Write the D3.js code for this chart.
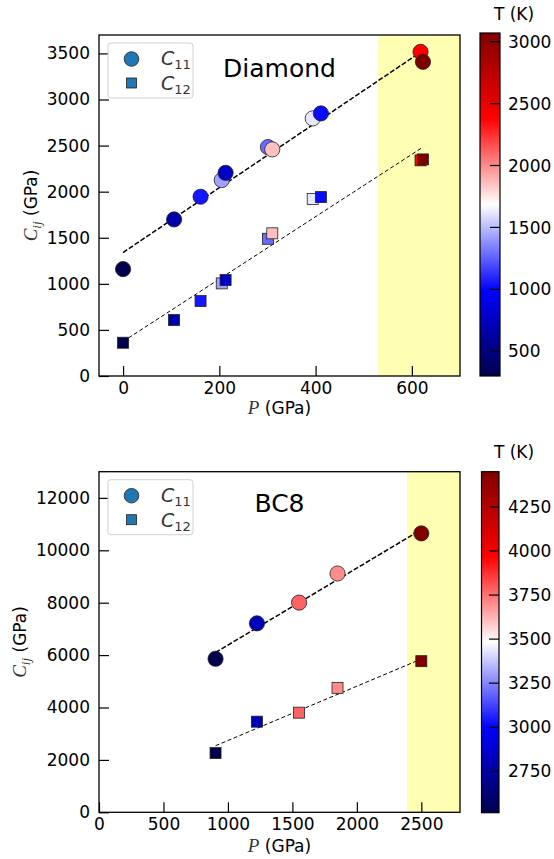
<!DOCTYPE html>
<html><head><meta charset="utf-8">
<script src="https://cdn.jsdelivr.net/npm/d3@7"></script>
<style>
body{margin:0;background:#fff}
svg{display:block}
text{font-family:"DejaVu Sans",sans-serif;fill:#000}
</style>
</head><body>
<svg id="c" width="554" height="859"></svg>
<script>
// ---------- Diamond data ----------
const diaP   = [0, 106, 161, 205, 213, 301, 310, 394, 411, 618, 623];
const diaC11 = [1160, 1699, 1945, 2126, 2205, 2484, 2459, 2795, 2849, 3517, 3409];
const diaC12 = [361, 607, 813, 1005, 1041, 1489, 1548, 1920, 1941, 2340, 2350];
const diaT   = [300, 660, 1050, 1430, 770, 1280, 1860, 1620, 1020, 2380, 3070];
const diaFit11 = [[0, 1340], [620, 3520]];
const diaFit12 = [[0, 375], [622, 2480]];
const diaXTicks = [0, 200, 400, 600];
const diaYTicks = [0, 500, 1000, 1500, 2000, 2500, 3000, 3500];
const diaCbTicks = [500, 1000, 1500, 2000, 2500, 3000];

// ---------- BC8 data ----------
const bcP   = [904, 1225, 1552, 1850, 2500];
const bcC11 = [5860, 7212, 8004, 9114, 10646];
const bcC12 = [2260, 3459, 3803, 4749, 5768];
const bcT   = [2515, 2805, 3780, 3700, 4450];
const bcFit11 = [[904, 6100], [2500, 10790]];
const bcFit12 = [[904, 2540], [2500, 5850]];
const bcXTicks = [0, 500, 1000, 1500, 2000, 2500];
const bcYTicks = [0, 2000, 4000, 6000, 8000, 10000, 12000];
const bcCbTicks = [2750, 3000, 3250, 3500, 3750, 4000, 4250];

const svg = d3.select("#c");
const seismicOffsets = [0, 0.25, 0.5, 0.75, 1];
const seismicColors = ["rgb(0,0,77)", "#0000ff", "#ffffff", "#ff0000", "#800000"];
const seismic = d3.scaleLinear().domain(seismicOffsets).range(seismicColors).interpolate(d3.interpolateRgb);

function panel(o) {
  const x = d3.scaleLinear().domain(o.xDomain).range([o.left, o.left + o.w]);
  const y = d3.scaleLinear().domain(o.yDomain).range([o.top + o.h, o.top]);
  const tExt = d3.extent(o.T);
  const cn = d3.scaleLinear().domain(tExt).range([0, 1]);
  const color = t => seismic(cn(t));
  const g = svg.append("g");
  const clipId = "clip" + o.id;
  g.append("clipPath").attr("id", clipId).append("rect")
    .attr("x", o.left).attr("y", o.top).attr("width", o.w).attr("height", o.h);

  // yellow band
  g.append("rect").attr("x", x(o.band)).attr("y", o.top)
    .attr("width", x(o.xDomain[1]) - x(o.band)).attr("height", o.h)
    .attr("fill", "#ffffb3");

  const plot = g.append("g").attr("clip-path", `url(#${clipId})`);
  const line = d3.line().x(d => x(d[0])).y(d => y(d[1]));
  plot.append("path").attr("d", line(o.fit11)).attr("fill", "none")
    .attr("stroke", "#000").attr("stroke-width", 1.5).attr("stroke-dasharray", "5,2");
  plot.append("path").attr("d", line(o.fit12)).attr("fill", "none")
    .attr("stroke", "#000").attr("stroke-width", 1).attr("stroke-dasharray", "4,2.5");

  const idx = d3.range(o.P.length);
  plot.selectAll("rect.sq").data(idx).join("rect").attr("class", "sq")
    .attr("x", i => x(o.P[i]) - 5.5).attr("y", i => y(o.C12[i]) - 5.5)
    .attr("width", 11).attr("height", 11)
    .attr("fill", i => color(o.T[i])).attr("stroke", "#222").attr("stroke-width", 0.8);
  plot.selectAll("circle.ci").data(idx).join("circle").attr("class", "ci")
    .attr("cx", i => x(o.P[i])).attr("cy", i => y(o.C11[i])).attr("r", 7.6)
    .attr("fill", i => color(o.T[i])).attr("stroke", "#222").attr("stroke-width", 0.8);

  // axes
  const ax = g.append("g").attr("transform", `translate(0,${o.top + o.h})`)
    .call(d3.axisBottom(x).tickValues(o.xTicks).tickSize(-10).tickPadding(6).tickFormat(d3.format("d")));
  const ay = g.append("g").attr("transform", `translate(${o.left},0)`)
    .call(d3.axisLeft(y).tickValues(o.yTicks).tickSize(-10).tickPadding(9).tickFormat(d3.format("d")));
  [ax, ay].forEach(a => {
    a.select(".domain").remove();
    a.selectAll("line").attr("stroke", "#000").attr("stroke-width", 1.2);
    a.selectAll("text").attr("font-size", 17).attr("font-family", "DejaVu Sans").attr("fill", "#000");
  });
  g.append("rect").attr("x", o.left).attr("y", o.top).attr("width", o.w).attr("height", o.h)
    .attr("fill", "none").attr("stroke", "#000").attr("stroke-width", 1.3);

  // title
  g.append("text").attr("x", o.left + o.w / 2).attr("y", o.titleY).attr("text-anchor", "middle")
    .attr("font-size", 25).text(o.title);

  // x label
  const xl = g.append("text").attr("x", o.left + o.w / 2).attr("y", o.xlabY).attr("text-anchor", "middle").attr("font-size", 17);
  xl.append("tspan").attr("font-family", "Liberation Serif").attr("font-style", "italic").attr("font-size", 19).attr("fill", "#333").text("P");
  xl.append("tspan").text(" (GPa)");
  // y label
  const yl = g.append("text").attr("transform", `translate(${o.ylabX},${o.top + o.h / 2}) rotate(-90)`)
    .attr("text-anchor", "middle").attr("font-size", 17);
  yl.append("tspan").attr("font-family", "Liberation Serif").attr("font-style", "italic").attr("font-size", 19).attr("fill", "#333").text("C");
  yl.append("tspan").attr("font-family", "Liberation Serif").attr("font-style", "italic").attr("font-size", 13).attr("fill", "#333").attr("dy", 4).text("ij");
  yl.append("tspan").attr("dy", -4).text(" (GPa)");

  // legend
  const lg = g.append("g");
  lg.append("rect").attr("x", o.left + 9).attr("y", o.top + 8).attr("width", 85).attr("height", 55)
    .attr("rx", 3).attr("fill", "#fff").attr("fill-opacity", 0.8).attr("stroke", "#d0d0d0").attr("stroke-width", 1);
  lg.append("circle").attr("cx", o.left + 32.5).attr("cy", o.top + 24).attr("r", 7.3)
    .attr("fill", "#1f77b4").attr("stroke", "#222").attr("stroke-width", 0.8);
  lg.append("rect").attr("x", o.left + 27.5).attr("y", o.top + 43).attr("width", 10).attr("height", 10)
    .attr("fill", "#1f77b4").attr("stroke", "#222").attr("stroke-width", 0.8);
  [["11", o.top + 30], ["12", o.top + 55]].forEach(([s, yy]) => {
    const t = lg.append("text").attr("x", o.left + 62).attr("y", yy).attr("font-family", "Liberation Serif");
    t.append("tspan").attr("font-style", "italic").attr("font-size", 19).attr("fill", "#333").text("C");
    t.append("tspan").attr("font-size", 13).attr("fill", "#333").attr("dy", 4).text(s);
  });

  // colorbar
  const gid = "grad" + o.id;
  const grad = svg.append("defs").append("linearGradient").attr("id", gid)
    .attr("x1", 0).attr("y1", 1).attr("x2", 0).attr("y2", 0);
  seismicOffsets.forEach((off, i) => grad.append("stop").attr("offset", off).attr("stop-color", seismicColors[i]));
  const cb = o.cb;
  const cy = d3.scaleLinear().domain(tExt).range([cb.y + cb.h, cb.y]);
  g.append("rect").attr("x", cb.x).attr("y", cb.y).attr("width", cb.w).attr("height", cb.h)
    .attr("fill", `url(#${gid})`).attr("stroke", "#000").attr("stroke-width", 1.2);
  o.cbTicks.forEach(t => {
    g.append("line").attr("x1", cb.x + cb.w - 10).attr("x2", cb.x + cb.w).attr("y1", cy(t)).attr("y2", cy(t))
      .attr("stroke", "#000").attr("stroke-width", 1.2);
    g.append("text").attr("x", 508).attr("y", cy(t)).attr("dy", "0.36em").attr("font-size", 17).text(t);
  });
  g.append("text").attr("x", 514).attr("y", cb.labY).attr("text-anchor", "middle").attr("font-size", 17).text("T (K)");
}

panel({
  id: "a", left: 99, top: 35, w: 361, h: 341,
  xDomain: [-50, 700], yDomain: [0, 3700], band: 530,
  P: diaP, C11: diaC11, C12: diaC12, T: diaT, fit11: diaFit11, fit12: diaFit12,
  xTicks: diaXTicks, yTicks: diaYTicks, cbTicks: diaCbTicks,
  title: "Diamond", titleY: 77, xlabY: 414, ylabX: 37,
  cb: {x: 480, y: 33, w: 20, h: 343, labY: 20}
});
panel({
  id: "b", left: 99, top: 471.7, w: 361, h: 340.6,
  xDomain: [0, 2800], yDomain: [0, 13000], band: 2390,
  P: bcP, C11: bcC11, C12: bcC12, T: bcT, fit11: bcFit11, fit12: bcFit12,
  xTicks: bcXTicks, yTicks: bcYTicks, cbTicks: bcCbTicks,
  title: "BC8", titleY: 512, xlabY: 852, ylabX: 26,
  cb: {x: 481.5, y: 471.7, w: 17.5, h: 341, labY: 458}
});
</script>
</body></html>
